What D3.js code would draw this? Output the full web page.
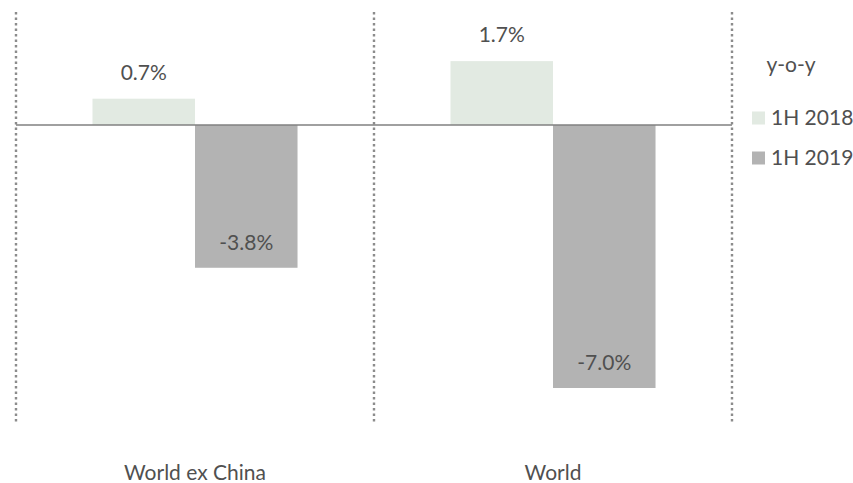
<!DOCTYPE html>
<html><head><meta charset="utf-8">
<script src="https://cdn.jsdelivr.net/npm/d3@7"></script>
<style>body{margin:0;background:#fff;}svg{display:block;}text{font-family:"Lato",sans-serif;fill:#505050;}</style>
</head><body><svg id="c" width="853" height="483"></svg>
<script>
const categories = ["World ex China", "World"];
const seriesNames = ["1H 2018", "1H 2019"];
const values2018 = [0.7, 1.7];
const values2019 = [-3.8, -7.0];
const labels2018 = ["0.7%", "1.7%"];
const labels2019 = ["-3.8%", "-7.0%"];
const colors = ["#e2eae2", "#b3b3b3"];
const legendTitle = "y-o-y";

const FS = 21;
const svg = d3.select("#c");
const x = d3.scaleBand().domain(categories).range([16, 732]).paddingInner(0).paddingOuter(0);
const xs = d3.scaleBand().domain(seriesNames).range([0, x.bandwidth()]).paddingInner(0).paddingOuter(0.746);
const y = d3.scaleLinear().domain([-7.0, 0]).range([388, 125]);

// dotted separators
svg.selectAll("line.sep").data(x.domain().map(c => x(c)).concat([x.range()[1]])).join("line")
  .attr("x1", d => d).attr("x2", d => d).attr("y1", 12).attr("y2", 424)
  .attr("stroke", "#8c8c8c").attr("stroke-width", 2.4).attr("stroke-dasharray", "2.5,3");

const data = [];
categories.forEach((c, i) => {
  data.push({c, s: seriesNames[0], v: values2018[i], l: labels2018[i]});
  data.push({c, s: seriesNames[1], v: values2019[i], l: labels2019[i]});
});

svg.selectAll("rect.bar").data(data).join("rect")
  .attr("x", d => x(d.c) + xs(d.s)).attr("width", xs.bandwidth())
  .attr("y", d => y(Math.max(0, d.v))).attr("height", d => Math.abs(y(d.v) - y(0)))
  .attr("fill", d => colors[seriesNames.indexOf(d.s)]);

// zero line
svg.append("line").attr("x1", 16).attr("x2", 732).attr("y1", y(0)).attr("y2", y(0))
  .attr("stroke", "#808080").attr("stroke-width", 1.3);

svg.selectAll("text.lbl").data(data).join("text")
  .attr("x", d => x(d.c) + xs(d.s) + xs.bandwidth() / 2)
  .attr("y", d => d.v >= 0 ? y(d.v) - 26 : y(d.v) - 25)
  .attr("dy", "0.35em").attr("text-anchor", "middle").attr("font-size", FS)
  .text(d => d.l);

svg.selectAll("text.cat").data(categories).join("text")
  .attr("x", d => x(d) + x.bandwidth() / 2).attr("y", 473).attr("dy", "0.35em")
  .attr("text-anchor", "middle").attr("font-size", FS).text(d => d);

// legend
svg.append("text").attr("x", 791).attr("y", 65).attr("dy", "0.35em").attr("text-anchor", "middle")
  .attr("font-size", FS).text(legendTitle);
const lg = svg.selectAll("g.lg").data(seriesNames).join("g")
  .attr("transform", (d, i) => `translate(752,${118 + i * 40})`);
lg.append("rect").attr("x", 0).attr("y", -6.5).attr("width", 13).attr("height", 13)
  .attr("fill", (d, i) => colors[i]);
lg.append("text").attr("x", 19).attr("y", 0).attr("dy", "0.35em").attr("font-size", FS).text(d => d);
</script></body></html>
